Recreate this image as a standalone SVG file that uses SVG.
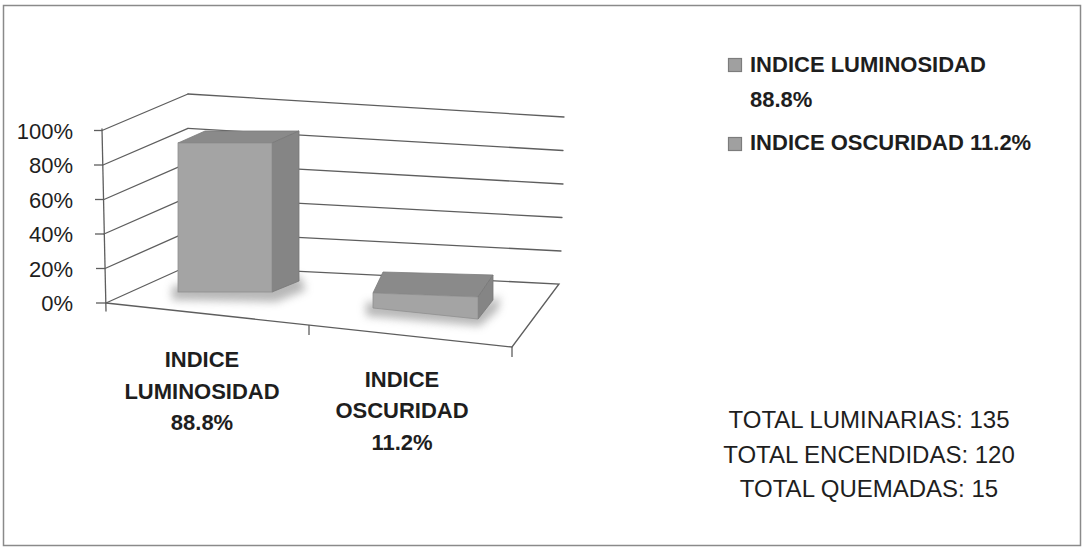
<svg xmlns="http://www.w3.org/2000/svg" width="1083" height="550" viewBox="0 0 1083 550">
  <defs>
    <filter id="soft" x="-20%" y="-50%" width="140%" height="200%">
      <feGaussianBlur stdDeviation="4"/>
    </filter>
    <style>
      .frame{fill:#ffffff;stroke:#8a8a8a;stroke-width:1.5}
      .grid{fill:none;stroke:#5e5e5e;stroke-width:1.3;stroke-linecap:round}
      .tick{fill:none;stroke:#5e5e5e;stroke-width:1.3}
      .ax{font-family:"Liberation Sans",Arial,sans-serif;font-size:22px;fill:#1e1e1e;text-anchor:end}
      .cat{font-family:"Liberation Sans",Arial,sans-serif;font-size:22px;font-weight:bold;fill:#1e1e1e;text-anchor:middle}
      .leg{font-family:"Liberation Sans",Arial,sans-serif;font-size:22px;font-weight:bold;fill:#1e1e1e}
      .tot{font-family:"Liberation Sans",Arial,sans-serif;font-size:24px;fill:#1e1e1e;text-anchor:middle}
      .front{fill:#a4a4a4;stroke:#8f8f8f;stroke-width:0.8}
      .side{fill:#858585;stroke:#777777;stroke-width:0.8}
      .top{fill:#8a8a8a;stroke:#7c7c7c;stroke-width:0.8}
      .shadow{fill:#9a9a9a;opacity:0.7}
      .mark{fill:#a0a0a0;stroke:#7c7c7c;stroke-width:1.2}
    </style>
  </defs>

  <rect class="frame" x="3.5" y="5.5" width="1077" height="540"/>

  <g id="connectors">
    <line class="grid" x1="102" y1="129" x2="106" y2="311"/>
    <line class="tick" x1="94" y1="130.5" x2="102" y2="130.5"/>
    <line class="tick" x1="94" y1="165" x2="103" y2="165"/>
    <line class="tick" x1="95" y1="199.5" x2="104" y2="199.5"/>
    <line class="tick" x1="95" y1="234" x2="104" y2="234"/>
    <line class="tick" x1="96" y1="268.5" x2="105" y2="268.5"/>
    <line class="tick" x1="96" y1="303" x2="106" y2="303"/>
    <line class="grid" x1="102" y1="130.5" x2="188" y2="94"/>
    <line class="grid" x1="103" y1="165" x2="188" y2="128.4"/>
    <line class="grid" x1="104" y1="199.5" x2="188" y2="162.8"/>
    <line class="grid" x1="104" y1="234" x2="188" y2="197.2"/>
    <line class="grid" x1="105" y1="268.5" x2="188" y2="231.6"/>
    <line class="grid" x1="106" y1="303" x2="188" y2="266"/>
    <line class="grid" x1="188" y1="94" x2="564" y2="117"/>
    <line class="grid" x1="188" y1="128.4" x2="563" y2="150.5"/>
    <line class="grid" x1="188" y1="162.8" x2="563" y2="184"/>
    <line class="grid" x1="188" y1="197.2" x2="562" y2="217.5"/>
    <line class="grid" x1="188" y1="231.6" x2="561" y2="251"/>
    <polyline class="grid" points="188,266 559,284 512,347 106,303"/>
    <line class="tick" x1="309" y1="325" x2="309" y2="335"/>
    <line class="tick" x1="512" y1="347" x2="512" y2="357"/>
  </g>

  <g id="bar-luminosidad">
    <polygon class="shadow" filter="url(#soft)" points="172,286 300,276 306,290 276,302 172,300"/>
    <polygon class="top" points="178,143 205,131 299,131 272,143"/>
    <polygon class="side" points="272,143 299,131 299,281 272,292"/>
    <rect class="front" x="178" y="143" width="94" height="149"/>
  </g>

  <g id="bar-oscuridad">
    <polygon class="shadow" filter="url(#soft)" points="366,302 480,306 500,296 498,310 480,326 366,316"/>
    <polygon class="top" points="373,293 383,272 493,275 478,297"/>
    <polygon class="side" points="478,297 493,275 493,300 478,319"/>
    <polygon class="front" points="373,293 478,297 478,319 373,308"/>
  </g>

  <g id="axis-labels">
    <text class="ax" x="73" y="138.5">100%</text>
    <text class="ax" x="73" y="173">80%</text>
    <text class="ax" x="73" y="207.5">60%</text>
    <text class="ax" x="73" y="242">40%</text>
    <text class="ax" x="73" y="276.5">20%</text>
    <text class="ax" x="73" y="311">0%</text>
  </g>

  <g id="label-luminosidad">
    <text class="cat" x="202" y="367">INDICE</text>
    <text class="cat" x="202" y="399">LUMINOSIDAD</text>
    <text class="cat" x="202" y="430">88.8%</text>
  </g>

  <g id="label-oscuridad">
    <text class="cat" x="402" y="387">INDICE</text>
    <text class="cat" x="402" y="418">OSCURIDAD</text>
    <text class="cat" x="402" y="450">11.2%</text>
  </g>

  <g id="legend">
    <rect class="mark" x="728.5" y="58.5" width="13" height="13"/>
    <text class="leg" x="750" y="72">INDICE LUMINOSIDAD</text>
    <text class="leg" x="750" y="107">88.8%</text>
    <rect class="mark" x="728.5" y="137.5" width="13" height="13"/>
    <text class="leg" x="750" y="150">INDICE OSCURIDAD 11.2%</text>
  </g>

  <g id="totals">
    <text class="tot" x="869" y="428">TOTAL LUMINARIAS: 135</text>
    <text class="tot" x="869" y="462.5">TOTAL ENCENDIDAS: 120</text>
    <text class="tot" x="869" y="497">TOTAL QUEMADAS: 15</text>
  </g>
</svg>
